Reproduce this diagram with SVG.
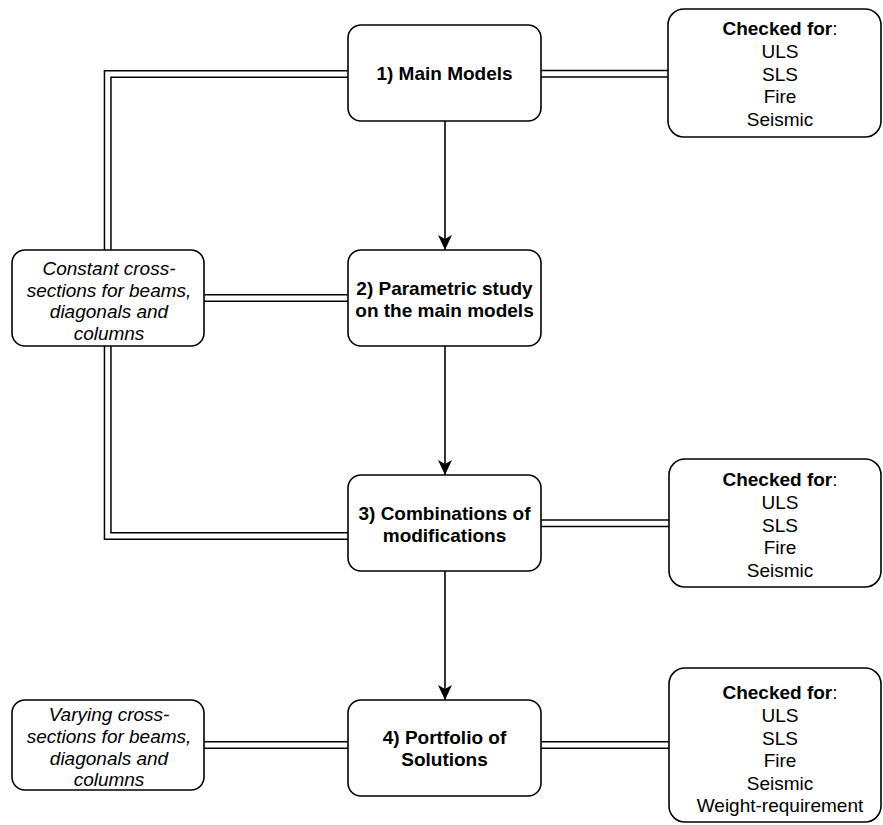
<svg xmlns="http://www.w3.org/2000/svg" width="883" height="825" viewBox="0 0 883 825">
  <style>
    .box { fill: #ffffff; stroke: #000000; stroke-width: 1.6; }
    .t { font-family: "Liberation Sans", Arial, sans-serif; font-size: 19px; fill: #000000; text-anchor: middle; }
    .b { font-weight: bold; }
    .i { font-style: italic; }
    .dbl-out { fill: none; stroke: #000000; stroke-width: 8; stroke-linejoin: miter; }
    .dbl-in { fill: none; stroke: #ffffff; stroke-width: 5; stroke-linejoin: miter; }
    .flow { fill: none; stroke: #000000; stroke-width: 1.6; }
  </style>
  <defs>
    <marker id="arrow" viewBox="0 0 16 14" refX="15" refY="7" markerWidth="16" markerHeight="14" markerUnits="userSpaceOnUse" orient="auto">
      <path d="M0,0 L15,7 L0,14 L4,7 Z" fill="#000000"/>
    </marker>
  </defs>
  <rect width="883" height="825" fill="#ffffff"/>

  <!-- connectors -->
  <g id="connectors">
    <g id="double-links">
      <path class="dbl-out" d="M348,74 H107.7 V250"/>
      <path class="dbl-in" d="M348,74 H107.7 V250"/>
      <path class="dbl-out" d="M107.7,346 V536 H348"/>
      <path class="dbl-in" d="M107.7,346 V536 H348"/>
      <path class="dbl-out" d="M204,298 H348"/>
      <path class="dbl-in" d="M204,298 H348"/>
      <path class="dbl-out" d="M541,73.7 H668"/>
      <path class="dbl-in" d="M541,73.7 H668"/>
      <path class="dbl-out" d="M541,523.3 H669"/>
      <path class="dbl-in" d="M541,523.3 H669"/>
      <path class="dbl-out" d="M541,745 H669"/>
      <path class="dbl-in" d="M541,745 H669"/>
      <path class="dbl-out" d="M204,745 H348"/>
      <path class="dbl-in" d="M204,745 H348"/>
    </g>
    <g id="flow-arrows">
      <path class="flow" d="M445,121 V250" marker-end="url(#arrow)"/>
      <path class="flow" d="M445,346 V475" marker-end="url(#arrow)"/>
      <path class="flow" d="M445,571 V700" marker-end="url(#arrow)"/>
    </g>
  </g>

  <!-- main steps -->
  <g id="step1">
    <rect class="box" x="348" y="25" width="193" height="96" rx="13"/>
    <text class="t b" x="444.5" y="80">1) Main Models</text>
  </g>
  <g id="step2">
    <rect class="box" x="348" y="250" width="193" height="96" rx="13"/>
    <text class="t b" x="444.5" y="294.5">2) Parametric study</text>
    <text class="t b" x="444.5" y="317">on the main models</text>
  </g>
  <g id="step3">
    <rect class="box" x="348" y="475" width="193" height="96" rx="13"/>
    <text class="t b" x="444.5" y="519.5">3) Combinations of</text>
    <text class="t b" x="444.5" y="541.5">modifications</text>
  </g>
  <g id="step4">
    <rect class="box" x="348" y="700" width="193" height="96" rx="13"/>
    <text class="t b" x="444.5" y="744">4) Portfolio of</text>
    <text class="t b" x="444.5" y="766">Solutions</text>
  </g>

  <!-- cross-section notes -->
  <g id="constant-sections">
    <rect class="box" x="12" y="250" width="192" height="96" rx="13"/>
    <text class="t i" x="109" y="275">Constant cross-</text>
    <text class="t i" x="109" y="296.5">sections for beams,</text>
    <text class="t i" x="109" y="318">diagonals and</text>
    <text class="t i" x="109" y="339.5">columns</text>
  </g>
  <g id="varying-sections">
    <rect class="box" x="12" y="700" width="192" height="90" rx="13"/>
    <text class="t i" x="109" y="721">Varying cross-</text>
    <text class="t i" x="109" y="743">sections for beams,</text>
    <text class="t i" x="109" y="765">diagonals and</text>
    <text class="t i" x="109" y="786">columns</text>
  </g>

  <!-- checks -->
  <g id="checks1">
    <rect class="box" x="668" y="9" width="213" height="128" rx="16"/>
    <text class="t" x="780" y="34.5"><tspan class="b">Checked for</tspan>:</text>
    <text class="t" x="780" y="58">ULS</text>
    <text class="t" x="780" y="80.7">SLS</text>
    <text class="t" x="780" y="103.4">Fire</text>
    <text class="t" x="780" y="126">Seismic</text>
  </g>
  <g id="checks3">
    <rect class="box" x="669" y="459" width="212" height="128" rx="16"/>
    <text class="t" x="780" y="486"><tspan class="b">Checked for</tspan>:</text>
    <text class="t" x="780" y="509">ULS</text>
    <text class="t" x="780" y="531.7">SLS</text>
    <text class="t" x="780" y="554.4">Fire</text>
    <text class="t" x="780" y="577">Seismic</text>
  </g>
  <g id="checks4">
    <rect class="box" x="669" y="668" width="212" height="154" rx="16"/>
    <text class="t" x="780" y="698.5"><tspan class="b">Checked for</tspan>:</text>
    <text class="t" x="780" y="721.5">ULS</text>
    <text class="t" x="780" y="744.5">SLS</text>
    <text class="t" x="780" y="767">Fire</text>
    <text class="t" x="780" y="790">Seismic</text>
    <text class="t" x="780" y="812">Weight-requirement</text>
  </g>
</svg>
